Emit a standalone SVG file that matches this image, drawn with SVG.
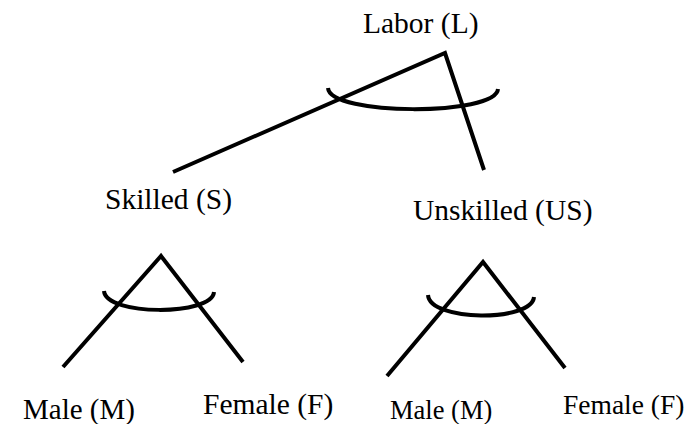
<svg xmlns="http://www.w3.org/2000/svg" width="697" height="424" viewBox="0 0 697 424">
<style>
.t{font-family:"Liberation Serif","Times New Roman",serif;fill:#000}
.ln{stroke:#000;stroke-width:4;fill:none;stroke-linecap:butt;stroke-linejoin:miter}
</style>
<rect width="697" height="424" fill="#fff"/>
<g id="connectors">
<polyline class="ln" points="173,172 445,53 484,170"/>
<path class="ln" d="M328,88 C330,116 496,116 498,89"/>
<polyline class="ln" points="63,367 161,256 243,362"/>
<path class="ln" d="M104,291 C106,316 212,316 214,292"/>
<polyline class="ln" points="387,376 483,262 565,368"/>
<path class="ln" d="M428,295 C430,322 532,322 534,297"/>
</g>
<g id="labor"><text class="t" x="363" y="32.5" font-size="29.5">Labor (L)</text></g>
<g id="skilled"><text class="t" x="105" y="208.5" font-size="29.5">Skilled (S)</text></g>
<g id="unskilled"><text class="t" x="413" y="219.5" font-size="29.5">Unskilled (US)</text></g>
<g id="male-s"><text class="t" x="23" y="418.5" font-size="29">Male (M)</text></g>
<g id="female-s"><text class="t" x="203" y="414" font-size="29.5">Female (F)</text></g>
<g id="male-us"><text class="t" x="390" y="418.5" font-size="26.5">Male (M)</text></g>
<g id="female-us"><text class="t" x="563" y="414" font-size="27.5">Female (F)</text></g>
</svg>
